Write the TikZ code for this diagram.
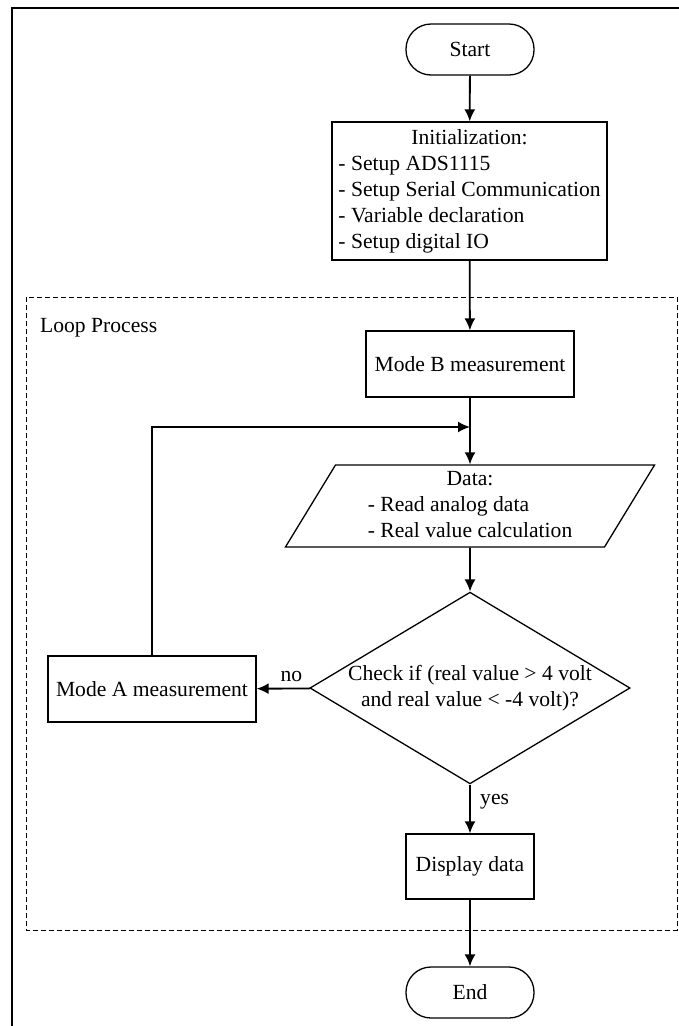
\documentclass[tikz,border=0pt]{standalone}
\usepackage{fontspec}
\setmainfont{Liberation Serif}
\usepackage{tikz}
\usetikzlibrary{arrows,arrows.meta,shapes.geometric}

\begin{document}
\begin{tikzpicture}[>={Latex[length=12pt,width=11pt]}, x=1pt, y=-1pt, font=\fontsize{21.6pt}{26pt}\selectfont,
	term/.style={draw, line width=1.3pt, rounded corners=25pt, minimum width=128pt, minimum height=51pt},
	procbox/.style={draw, line width=1.3pt, minimum width=208pt, minimum height=66pt, inner sep=0pt},
	iobox/.style={draw, line width=1.3pt, trapezium, trapezium left angle=64, trapezium right angle=116, trapezium stretches=true, minimum width=370pt, minimum height=82pt, inner sep=0pt},
	decide/.style={draw, line width=1.3pt, diamond, shape aspect=1.67, inner sep=0pt, align=center},
	flow/.style={->, line width=1.8pt}]
	\useasboundingbox (0,0) rectangle (679,1026);
%	\draw [help lines] (0,0) grid (679,1026);
	\draw [line width=1.7pt] (12,1026) -- (12,8) -- (679,8);
	\draw [line width=1pt, dash pattern=on 5pt off 3pt] (26,297) rectangle (677,930);
	\node [anchor=base west, inner sep=0pt] (looplabel) at (40,332) {Loop Process};

	\node [term] (start) at (470,49.5) {Start};
	\node [procbox, minimum width=275pt, minimum height=138pt] (init) at (469.5,191) {\begin{tabular}{@{}l@{}}\multicolumn{1}{@{}c@{}}{Initialization:}\\- Setup ADS1115\\- Setup Serial Communication\\- Variable declaration\\- Setup digital IO\end{tabular}};
	\node [procbox] (modeB) at (470,364) {Mode B measurement};
	\coordinate (merge) at (470,427);
	\node [iobox] (data) at (470,506) {\begin{tabular}{@{}l@{}}\multicolumn{1}{@{}c@{}}{Data:}\\- Read analog data\\- Real value calculation\end{tabular}};
	\node [decide] (check) at (470,688) {Check if (real value > 4 volt\\and real value < -4 volt)?};
	\node [procbox] (modeA) at (152,689) {Mode A measurement};
	\node [procbox, minimum width=128pt, minimum height=65pt] (display) at (470,866.5) {Display data};
	\node [term] (stop) at (470,992.5) {End};

	\draw [flow] (start) -- (init);
	\draw [flow] (init) -- (modeB);
	\draw [flow] (modeB) -- (data);
	\draw [flow] (modeA) |- (merge);
	\draw [flow] (data) -- (check);
	\draw [flow] (check) -- (modeA) node [pos=0.35, above=3pt] {no};
	\draw [flow] (check) -- (display) node [pos=0.35, right=6pt] {yes};
	\draw [flow] (display) -- (stop);
\end{tikzpicture}
\end{document}
